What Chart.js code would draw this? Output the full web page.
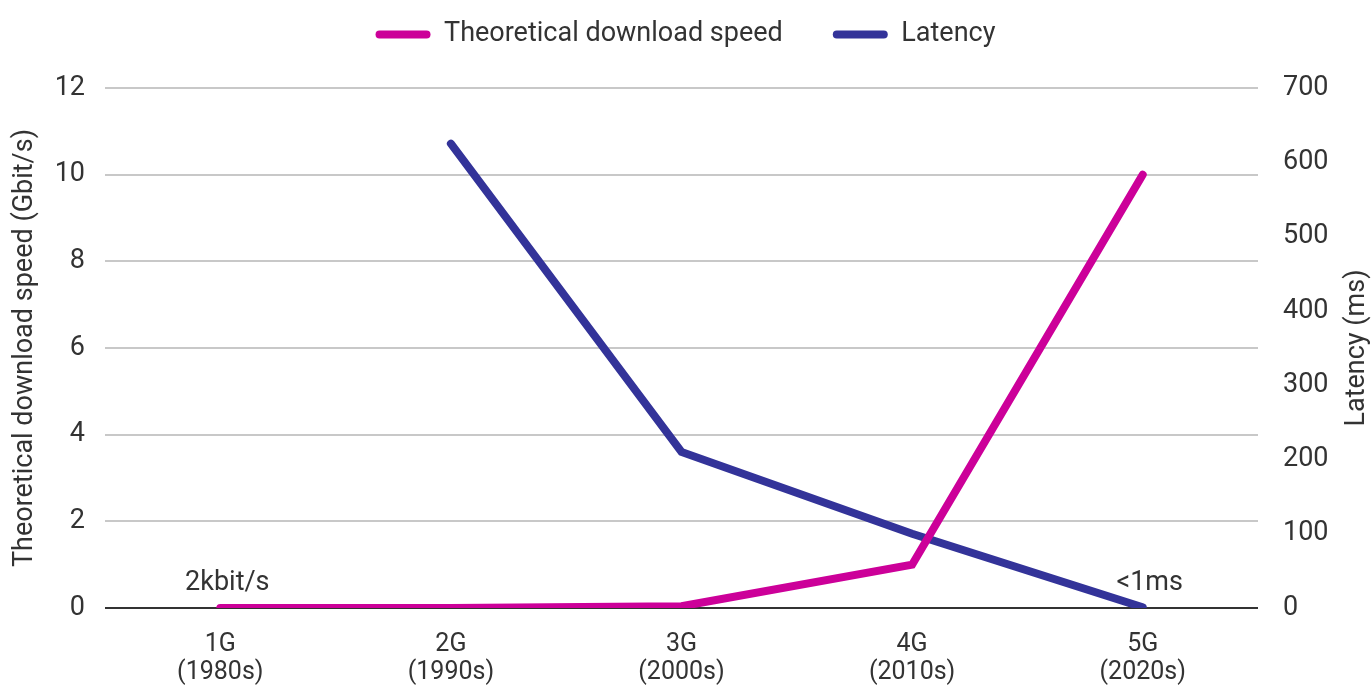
<!DOCTYPE html>
<html>
<head>
<meta charset="utf-8">
<script src="https://cdn.jsdelivr.net/npm/chart.js@4.4.1/dist/chart.umd.min.js"></script>
<style>
  body { margin: 0; background: #fff; }
  #wrap { width: 1371px; height: 689px; position: relative; }
</style>
</head>
<body>
<div id="wrap"><canvas id="myChart"></canvas></div>
<script>
// categories (generation + decade)
const generaciones = [['1G', '(1980s)'], ['2G', '(1990s)'], ['3G', '(2000s)'], ['4G', '(2010s)'], ['5G', '(2020s)']];
// theoretical download speed, Gbit/s
const velocidad = [0.000002, 0.0001, 0.04, 1, 10];
// latency, ms (no value for 1G)
const latencia = [null, 625, 210, 100, 1];
const ticksVelocidad = [0, 2, 4, 6, 8, 10, 12];
const ticksLatencia = [0, 100, 200, 300, 400, 500, 600, 700];
// text notes on the points: [category index, axis, value, text]
const notas = [[0, 'y', 0, '2kbit/s'], [4, 'y1', 0, '<1ms']];
const tituloDerecho = 'Latency (ms)';

const rosa = '#CC0099';
const azul = '#333399';
const texto = '#333333';
const fuente = { family: 'Roboto', size: 27 };
const fuenteX = { family: 'Roboto', size: 25, lineHeight: 1.1 };

const notasPlugin = {
    id: 'notas',
    afterDatasetsDraw(chart) {
        const ctx = chart.ctx;
        const area = chart.chartArea;
        ctx.save();
        ctx.font = '27px Roboto';
        ctx.fillStyle = texto;
        ctx.textAlign = 'center';
        ctx.textBaseline = 'alphabetic';
        notas.forEach(([i, eje, val, txt]) => {
            const x = chart.scales.x.getPixelForValue(i) + 7;
            const y = chart.scales[eje].getPixelForValue(val) - 18;
            ctx.fillText(txt, x, y);
        });
        // right axis title, reading upwards like the left one
        ctx.translate(chart.width - 14, (area.top + area.bottom) / 2);
        ctx.rotate(-Math.PI / 2);
        ctx.textBaseline = 'middle';
        ctx.fillText(tituloDerecho, 0, 0);
        ctx.restore();
    }
};

const legendAlto = {
    id: 'legendAlto',
    beforeInit(chart) {
        const fitOrig = chart.legend.fit;
        chart.legend.fit = function () {
            fitOrig.call(this);
            this.height = 117;
        };
    }
};

const ctx = document.getElementById('myChart').getContext('2d');
new Chart(ctx, {
    type: 'line',
    data: {
        labels: generaciones,
        datasets: [{
            label: 'Theoretical download speed',
            data: velocidad,
            borderColor: rosa,
            backgroundColor: rosa,
            borderWidth: 8,
            borderCapStyle: 'round',
            borderJoinStyle: 'miter',
            pointRadius: 0,
            tension: 0,
            yAxisID: 'y'
        }, {
            label: 'Latency',
            data: latencia,
            borderColor: azul,
            backgroundColor: azul,
            borderWidth: 8,
            borderCapStyle: 'round',
            borderJoinStyle: 'miter',
            pointRadius: 0,
            tension: 0,
            yAxisID: 'y1'
        }]
    },
    options: {
        responsive: true,
        maintainAspectRatio: false,
        animation: false,
        layout: { padding: { left: 0, right: 0, top: -29, bottom: 0 } },
        plugins: {
            tooltip: { enabled: false },
            legend: {
                position: 'top',
                labels: {
                    font: fuente,
                    color: texto,
                    boxWidth: 55,
                    boxHeight: 8,
                    padding: 50,
                    useBorderRadius: true,
                    borderRadius: 4,
                    generateLabels(chart) {
                        return Chart.defaults.plugins.legend.labels.generateLabels(chart).map(l => {
                            l.lineWidth = 0;
                            return l;
                        });
                    }
                }
            }
        },
        scales: {
            x: {
                offset: true,
                afterFit(scale) { scale.height = 81; },
                grid: { display: false, drawTicks: false },
                border: { display: false },
                ticks: { font: fuenteX, color: texto, padding: 23, maxRotation: 0 }
            },
            y: {
                position: 'left',
                min: 0,
                max: 12,
                afterBuildTicks(scale) {
                    scale.ticks = ticksVelocidad.map(v => ({ value: v }));
                },
                afterFit(scale) { scale.width = 105; },
                grid: {
                    drawTicks: false,
                    lineWidth: 2,
                    color: c => c.tick && c.tick.value === 0 ? '#333333' : '#c8c8c8'
                },
                border: { display: false },
                ticks: { font: fuente, color: texto, padding: 20 },
                title: { display: true, text: 'Theoretical download speed (Gbit/s)', font: fuente, color: texto, padding: 9 }
            },
            y1: {
                position: 'right',
                min: 0,
                max: 700,
                afterBuildTicks(scale) {
                    scale.ticks = ticksLatencia.map(v => ({ value: v }));
                },
                afterFit(scale) { scale.width = 113; },
                grid: { display: false, drawTicks: false },
                border: { display: false },
                ticks: { font: fuente, color: texto, padding: 25 }
            }
        }
    },
    plugins: [notasPlugin, legendAlto]
});
</script>
</body>
</html>
